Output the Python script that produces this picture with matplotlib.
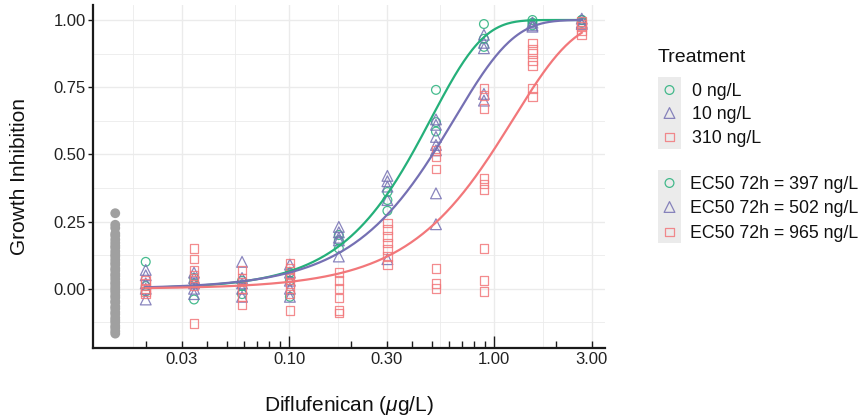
import numpy as np
import matplotlib
matplotlib.use("Agg")
import matplotlib.pyplot as plt
from matplotlib.patches import Rectangle
from matplotlib.ticker import FixedLocator, FuncFormatter

plt.rcParams['font.family'] = ['Liberation Sans', 'DejaVu Sans']
plt.rcParams['mathtext.fontset'] = 'custom'
plt.rcParams['mathtext.it'] = 'Liberation Sans:italic'
plt.rcParams['mathtext.rm'] = 'Liberation Sans'

# --- data ---
doses = [0.020, 0.0344, 0.059, 0.101, 0.175, 0.302, 0.521, 0.893, 1.54, 2.68]
control_x = 0.0142
control = [0.281, 0.238, 0.226, 0.205, 0.197, 0.183, 0.171, 0.160, 0.152, 0.139,
           0.128, 0.120, 0.108, 0.097, 0.089, 0.076, 0.068, 0.055, 0.047, 0.036,
           0.024, 0.016, 0.005, -0.004, -0.013, -0.025, -0.033, -0.046, -0.052,
           -0.066, -0.074, -0.087, -0.095, -0.108, -0.117, -0.125, -0.138,
           -0.146, -0.158, -0.167]

inhib_0 = [[0.10, 0.01, -0.01],
           [0.04, 0.02, -0.04],
           [0.03, 0.01, -0.02],
           [0.06, 0.03, -0.03],
           [0.20, 0.18, 0.15],
           [0.36, 0.33, 0.29],
           [0.74, 0.62, 0.585],
           [0.985, 0.93, 0.90],
           [1.0, 0.99, 0.98],
           [1.0, 1.0, 0.99]]
inhib_10 = [[0.07, 0.05, 0.02, 0.0, -0.04],
            [0.06, 0.04, 0.02, 0.0, -0.02],
            [0.10, 0.04, 0.02, 0.0, -0.03],
            [0.09, 0.06, 0.03, 0.0, -0.03],
            [0.23, 0.21, 0.19, 0.18, 0.12],
            [0.42, 0.40, 0.38, 0.33, 0.11],
            [0.63, 0.61, 0.565, 0.535, 0.515, 0.355, 0.24],
            [0.945, 0.915, 0.895, 0.725, 0.70],
            [0.99, 0.98, 0.975],
            [1.005, 0.99, 0.985]]
inhib_310 = [[0.03, 0.02, 0.0, -0.01, -0.02],
             [0.15, 0.11, 0.07, 0.05, 0.03, 0.01, -0.13],
             [0.07, 0.04, 0.025, 0.0, -0.03, -0.06],
             [0.095, 0.075, 0.055, 0.04, 0.02, 0.0, -0.02, -0.08],
             [0.06, 0.03, 0.0, -0.035, -0.08, -0.09],
             [0.245, 0.22, 0.195, 0.17, 0.145, 0.12, 0.09],
             [0.515, 0.49, 0.445, 0.075, 0.02, 0.0],
             [0.745, 0.72, 0.67, 0.41, 0.39, 0.37, 0.15, 0.03, -0.01],
             [0.915, 0.89, 0.875, 0.85, 0.83, 0.745, 0.715],
             [0.995, 0.985, 0.975, 0.96, 0.945]]

treatments = ["0 ng/L", "10 ng/L", "310 ng/L"]
ec50 = [0.397, 0.502, 0.965]          # µg/L
shape_k = [1.7, 1.5, 1.45]            # Weibull shape of fitted curves
ec50_labels = ["EC50 72h = 397 ng/L", "EC50 72h = 502 ng/L", "EC50 72h = 965 ng/L"]

colors = ["#25B07A", "#7570B3", "#F2777A"]
markers = ["o", "^", "s"]
msizes = [40, 60, 38]

fig = plt.figure(figsize=(8.68, 4.17), dpi=100)
ax = fig.add_axes([93 / 868, 69 / 417, 512 / 868, 343 / 417])

ax.set_xscale("log")
ax.set_xlim(0.01106, 3.479)
ax.set_ylim(-0.2205, 1.0558)

# grid
for g in [0.03, 0.1, 0.3, 1.0, 3.0]:
    ax.axvline(g, color="#EBEBEB", lw=1.0, zorder=0)
for a, b in [(0.01, 0.03), (0.03, 0.1), (0.1, 0.3), (0.3, 1.0), (1.0, 3.0)]:
    ax.axvline(np.sqrt(a * b), color="#EBEBEB", lw=0.6, zorder=0)
ax.set_yticks([0, 0.25, 0.5, 0.75, 1.0])
ax.set_yticklabels(["0.00", "0.25", "0.50", "0.75", "1.00"])
ax.yaxis.set_minor_locator(FixedLocator([-0.125, 0.125, 0.375, 0.625, 0.875]))
ax.grid(axis="y", which="major", color="#EBEBEB", lw=1.0, zorder=0)
ax.grid(axis="y", which="minor", color="#EBEBEB", lw=0.6, zorder=0)
ax.set_axisbelow(True)

# control points
ax.scatter([control_x] * len(control), control, s=50, color="#A0A0A0",
           edgecolors="none", zorder=2)

# treatment points
for data, col, mk, ms in zip([inhib_0, inhib_10, inhib_310], colors, markers, msizes):
    xs, ys = [], []
    for d, vals in zip(doses, data):
        xs += [d] * len(vals)
        ys += vals
    ax.scatter(xs, ys, s=ms, marker=mk, facecolors="none", edgecolors=col,
               linewidths=0.9, alpha=0.85, zorder=3)

# fitted curves (Weibull, 50 % at EC50)
xx = np.logspace(np.log10(doses[0]), np.log10(doses[-1]), 300)
for e, k, col in zip(ec50, shape_k, colors):
    yy = 1 - np.exp(-np.log(2) * (xx / e) ** k)
    ax.plot(xx, yy, color=col, lw=1.6, zorder=4)

# axes styling
for s in ["top", "right"]:
    ax.spines[s].set_visible(False)
for s in ["left", "bottom"]:
    ax.spines[s].set_linewidth(1.6)
    ax.spines[s].set_color("#1a1a1a")

ax.xaxis.set_major_locator(FixedLocator([0.1, 1.0]))
ax.xaxis.set_major_formatter(FuncFormatter(lambda v, p: "%.2f" % v))
minor_x = [m * 10.0 ** p for p in [-2, -1, 0] for m in range(2, 10)]
minor_x = [v for v in minor_x if v < 3.4]
ax.xaxis.set_minor_locator(FixedLocator(minor_x))
labelled = [0.03, 0.3, 3.0]
ax.xaxis.set_minor_formatter(FuncFormatter(
    lambda v, p: "%.2f" % v if any(abs(v - l) < 1e-9 for l in labelled) else ""))
ax.tick_params(axis="x", which="major", direction="in", length=8.5, width=1.0,
               color="#1a1a1a", labelsize=12, labelcolor="#222222", pad=3)
ax.tick_params(axis="x", which="minor", direction="in", length=5, width=1.0,
               color="#1a1a1a", labelsize=12, labelcolor="#222222", pad=3)
ax.tick_params(axis="y", which="major", direction="out", length=3.5, width=1.0,
               color="#1a1a1a", labelsize=12, labelcolor="#222222", pad=1.5)
ax.tick_params(axis="y", which="minor", length=0)

ax.set_xlabel(r"Diflufenican ($\mu$g/L)", fontsize=15, color="#111111")
ax.xaxis.set_label_coords(0.5, -0.135)
ax.set_ylabel("Growth Inhibition", fontsize=15, color="#111111")
ax.yaxis.set_label_coords(-0.125, 0.5)

# legends, drawn in figure pixel coordinates
lax = fig.add_axes([0, 0, 1, 1])
lax.set_xlim(0, 868)
lax.set_ylim(417, 0)
lax.axis("off")

lax.text(658, 62, "Treatment", fontsize=14, color="#111111", va="baseline")
lax.add_patch(Rectangle((658, 77), 23, 72, color="#EBEBEB", lw=0))
lax.add_patch(Rectangle((658, 170), 23, 73, color="#EBEBEB", lw=0))
for i, (lab, col, mk, ms) in enumerate(zip(treatments, colors, markers, msizes)):
    y = [90, 113, 137][i]
    lax.scatter([669.5], [y], s=ms, marker=mk, facecolors="none", edgecolors=col,
                linewidths=0.9, alpha=0.85)
    lax.text(692, y + 6, lab, fontsize=12.8, color="#111111", va="baseline")
for i, (lab, col, mk, ms) in enumerate(zip(ec50_labels, colors, markers, msizes)):
    y = [183, 207, 232][i]
    lax.scatter([669.5], [y], s=ms, marker=mk, facecolors="none", edgecolors=col,
                linewidths=0.9, alpha=0.85)
    lax.text(690, y + 6, lab, fontsize=12.8, color="#111111", va="baseline")

fig.savefig("out.png", dpi=100)
